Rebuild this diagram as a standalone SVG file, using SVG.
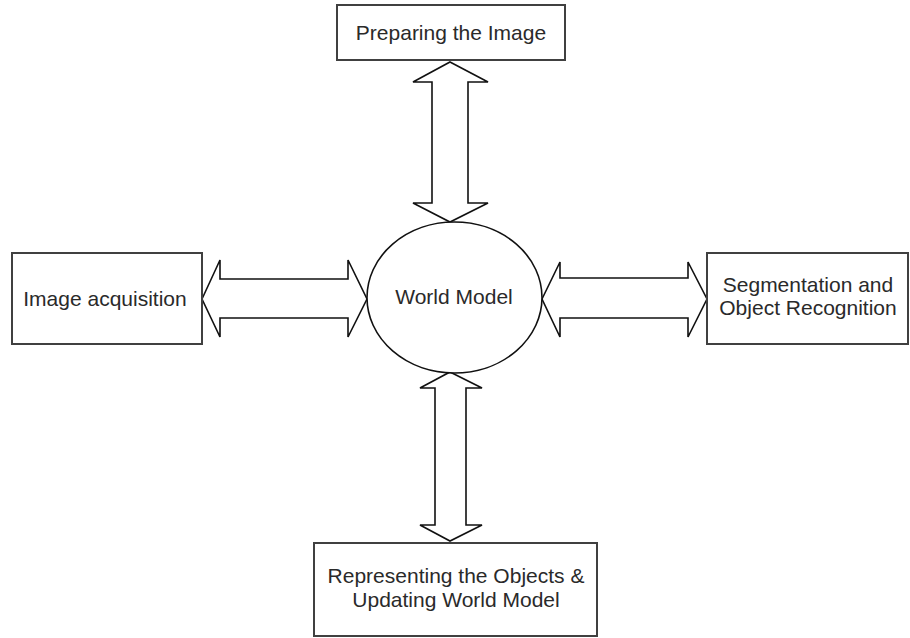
<svg xmlns="http://www.w3.org/2000/svg" width="910" height="638" viewBox="0 0 910 638">
<style>
.box{fill:#fff;stroke:#404040;stroke-width:2}
.arr{fill:#fff;stroke:#111;stroke-width:1.6;stroke-linejoin:miter}
.lbl{font-family:"Liberation Sans",Arial,sans-serif;font-size:21px;fill:#2a2a2a;text-anchor:middle}
</style>
<rect width="910" height="638" fill="#fff"/>
<g id="connectors">
<polygon class="arr" points="450,62 488,82 468,82 468,203 488,203 450,222 413,203 432,203 432,82 413,82"/>
<polygon class="arr" points="202,299 220,260 220,279 348,279 348,260 367,299 348,337 348,318 220,318 220,337"/>
<polygon class="arr" points="542,299 560,262 560,278 688,278 688,262 707,299 688,337 688,318 560,318 560,337"/>
<polygon class="arr" points="450,372 482,388 466,388 466,525 482,525 450,541 420,525 435,525 435,388 420,388"/>
</g>
<g id="world-model">
<ellipse cx="454.5" cy="297.5" rx="87.5" ry="75.5" fill="#fff" stroke="#111" stroke-width="1.6"/>
<text class="lbl" x="454" y="304">World Model</text>
</g>
<g id="preparing">
<rect class="box" x="337" y="5" width="228" height="55"/>
<text class="lbl" x="451" y="40">Preparing the Image</text>
</g>
<g id="acquisition">
<rect class="box" x="12" y="253" width="190" height="91"/>
<text class="lbl" x="105" y="306">Image acquisition</text>
</g>
<g id="segmentation">
<rect class="box" x="707" y="253" width="201" height="91"/>
<text class="lbl" x="808" y="292">Segmentation and</text>
<text class="lbl" x="808" y="315">Object Recognition</text>
</g>
<g id="representing">
<rect class="box" x="314" y="543" width="283" height="93"/>
<text class="lbl" x="456" y="583">Representing the Objects &amp;</text>
<text class="lbl" x="456" y="607">Updating World Model</text>
</g>
</svg>
